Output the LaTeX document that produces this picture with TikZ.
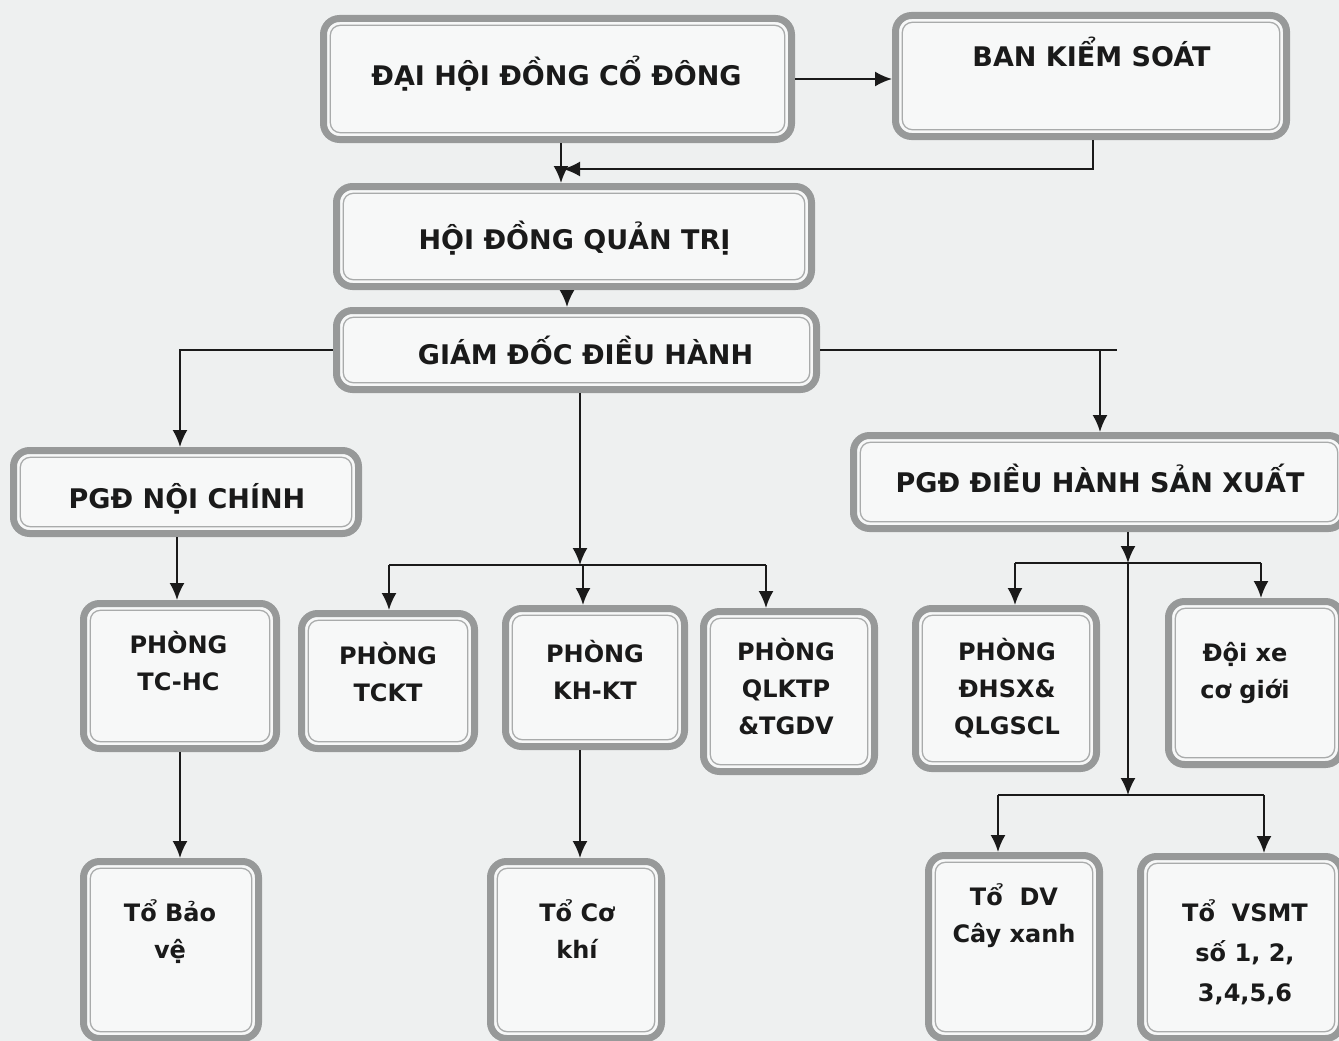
\documentclass[tikz,border=0pt]{standalone}
\usepackage{fontspec}
\setmainfont{DejaVu Sans}
\usetikzlibrary{arrows.meta,calc}
\definecolor{bg}{HTML}{EEF0F0}
\definecolor{band}{HTML}{979999}
\definecolor{innerline}{HTML}{A9ABAB}
\definecolor{boxfill}{HTML}{F7F8F8}
\definecolor{ink}{HTML}{1A1A1A}
\newcommand\bst{\rule{0pt}{30pt}}
\newcommand\sst{\rule{0pt}{27pt}}
\begin{document}
\begin{tikzpicture}[x=1pt,y=-1pt,
  orgbox/.style={draw=band, line width=7pt, rounded corners=16pt, fill=boxfill, inner sep=0pt,
    path picture={\draw[innerline, line width=1.3pt, rounded corners=10pt]
      ([shift={(6.8pt,-6.8pt)}]path picture bounding box.north west) rectangle
      ([shift={(-6.8pt,6.8pt)}]path picture bounding box.south east);}},
  bigtxt/.style={font=\bfseries\fontsize{27}{37}\selectfont, text=ink, anchor=north, inner sep=0pt, align=center},
  smalltxt/.style={font=\bfseries\fontsize{24}{37}\selectfont, text=ink, anchor=north, inner sep=0pt, align=center},
  conn/.style={draw=ink, line width=2pt},
  arr/.style={conn, -{Latex[length=17pt,width=15pt]}}]
\fill[bg] (0,0) rectangle (1339,1041);
\useasboundingbox (0,0) rectangle (1339,1041);

% boxes
\node[orgbox, minimum width=468pt, minimum height=121pt] (dh) at (557.5,79) {};
\node[orgbox, minimum width=391pt, minimum height=121pt] (bks) at (1091,76) {};
\node[orgbox, minimum width=475pt, minimum height=100pt] (hdqt) at (574,236.5) {};
\node[orgbox, minimum width=480pt, minimum height=79pt] (gd) at (576.5,350) {};
\node[orgbox, minimum width=345pt, minimum height=83pt] (pnc) at (186,492) {};
\node[orgbox, minimum width=491pt, minimum height=93pt] (psx) at (1099,482) {};
\node[orgbox, minimum width=193pt, minimum height=145pt] (tchc) at (180,676) {};
\node[orgbox, minimum width=173pt, minimum height=135pt] (tckt) at (388,681) {};
\node[orgbox, minimum width=179pt, minimum height=138pt] (khkt) at (595,677.5) {};
\node[orgbox, minimum width=171pt, minimum height=160pt] (qlktp) at (789,691.5) {};
\node[orgbox, minimum width=181pt, minimum height=160pt] (dhsx) at (1006,688.5) {};
\node[orgbox, minimum width=173pt, minimum height=163pt] (doixe) at (1255,683) {};
\node[orgbox, minimum width=175pt, minimum height=177pt] (tbv) at (171,950) {};
\node[orgbox, minimum width=171pt, minimum height=177pt] (tck) at (576,950) {};
\node[orgbox, minimum width=171pt, minimum height=183pt] (tdv) at (1014,947) {};
\node[orgbox, minimum width=201pt, minimum height=182pt] (vsmt) at (1241,947.5) {};

% texts
\node[bigtxt] (dh-t) at (556.5,85-30) {\bst ĐẠI HỘI ĐỒNG CỔ ĐÔNG};
\node[bigtxt] (bks-t) at (1091.5,66-30) {\bst BAN KIỂM SOÁT};
\node[bigtxt] (hdqt-t) at (574.5,249-30) {\bst HỘI ĐỒNG QUẢN TRỊ};
\node[bigtxt] (gd-t) at (585.5,364-30) {\bst GIÁM ĐỐC ĐIỀU HÀNH};
\node[bigtxt] (pnc-t) at (187,508-30) {\bst PGĐ NỘI CHÍNH};
\node[bigtxt] (psx-t) at (1100,492-30) {\bst PGĐ ĐIỀU HÀNH SẢN XUẤT};
\node[smalltxt] (tchc-t) at (178.5,653-27) {\sst PHÒNG\\TC-HC};
\node[smalltxt] (tckt-t) at (388,664-27) {\sst PHÒNG\\TCKT};
\node[smalltxt] (khkt-t) at (595,662-27) {\sst PHÒNG\\KH-KT};
\node[smalltxt] (qlktp-t) at (786,660-27) {\sst PHÒNG\\QLKTP\\\&TGDV};
\node[smalltxt] (dhsx-t) at (1007,660-27) {\sst PHÒNG\\ĐHSX\&\\QLGSCL};
\node[smalltxt] (doixe-t) at (1245,661-27) {\sst Đội xe\\cơ giới};
\node[smalltxt] (tbv-t) at (170,921-27) {\sst Tổ Bảo\\vệ};
\node[smalltxt] (tck-t) at (577,921-27) {\sst Tổ Cơ\\khí};
\node[smalltxt] (tdv-t) at (1014,905-27) {\sst Tổ~~DV\\Cây xanh};
\node[smalltxt, font=\bfseries\fontsize{24}{40}\selectfont] (vsmt-t) at (1245,921-27) {\sst Tổ~~VSMT\\số 1, 2,\\3,4,5,6};

% helper coordinates
\coordinate (x561) at (561,0);
\coordinate (x567) at (567,0);
\coordinate (x1093) at (1093,0);
\coordinate (x180) at (180,0);
\coordinate (x177) at (177,0);
\coordinate (x1100) at (1100,0);
\coordinate (x1117) at (1117,0);
\coordinate (x580) at (580,0);
\coordinate (x1128) at (1128,0);
\coordinate (j1) at (563,169);
\coordinate (m1) at (580,565);
\coordinate (m1l) at (389,565);
\coordinate (m1c) at (583,565);
\coordinate (m1r) at (766,565);
\coordinate (r1) at (1128,563);
\coordinate (r1l) at (1015,563);
\coordinate (r1r) at (1261,563);
\coordinate (r2) at (1128,795);
\coordinate (r2l) at (998,795);
\coordinate (r2r) at (1264,795);

% connectors
\draw[arr] (dh.east) -- (dh.east -| bks.west);
\draw[arr] (dh.south -| x561) -- (hdqt.north -| x561);
\draw[arr] (bks.south -| x1093) |- (j1);
\draw[arr] (hdqt.south -| x567) -- (gd.north -| x567);
\draw[arr] (gd.west) -| (pnc.north -| x180);
\draw[conn] (gd.east) -- (gd.east -| x1117);
\draw[arr] (gd.east -| x1100) -- (psx.north -| x1100);
\draw[arr] (gd.south -| x580) -- (m1);
\draw[conn] (m1l) -- (m1r);
\draw[arr] (m1l) -- (tckt.north -| m1l);
\draw[arr] (m1c) -- (khkt.north -| m1c);
\draw[arr] (m1r) -- (qlktp.north -| m1r);
\draw[arr] (pnc.south -| x177) -- (tchc.north -| x177);
\draw[arr] (tchc.south -| x180) -- (tbv.north -| x180);
\draw[arr] (khkt.south -| x580) -- (tck.north -| x580);
\draw[arr] (psx.south -| x1128) -- (r1);
\draw[conn] (r1l) -- (r1r);
\draw[arr] (r1l) -- (dhsx.north -| r1l);
\draw[arr] (r1r) -- (doixe.north -| r1r);
\draw[arr] (r1) -- (r2);
\draw[conn] (r2l) -- (r2r);
\draw[arr] (r2l) -- (tdv.north -| r2l);
\draw[arr] (r2r) -- (vsmt.north -| r2r);
\end{tikzpicture}
\end{document}
